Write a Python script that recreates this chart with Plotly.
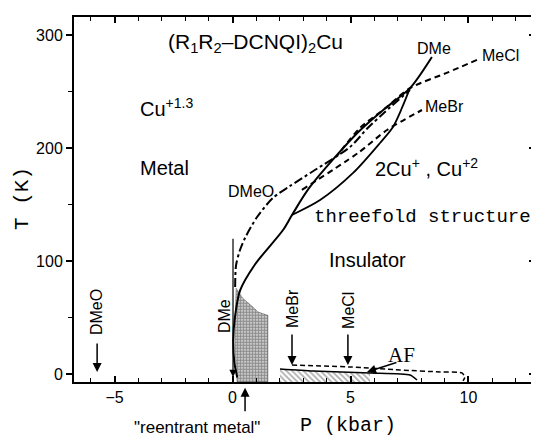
import plotly.graph_objects as go

# ---- data (P in kbar, T in K) ----
dme_P = [0.20, 0.08, 0.03, 0.10, 0.32, 0.95, 2.14, 2.52, 3.28, 5.32, 6.46, 7.52, 8.45]
dme_T = [-3.0, 10.0, 30.0, 50.0, 74.0, 97.0, 127.5, 140.8, 165.6, 214.0, 235.0, 253.0, 280.6]

loop_P = [2.52, 3.71, 5.11, 6.25, 6.80, 7.18, 7.52]
loop_T = [140.8, 154.0, 178.0, 204.5, 218.7, 235.5, 253.0]

dmeo_P = [0.11, 0.15, 0.32, 0.53, 1.04, 1.72, 2.44, 3.41, 4.98, 5.74, 6.46, 7.52]
dmeo_T = [77.0, 96.5, 110.0, 120.4, 139.0, 156.0, 166.5, 179.5, 201.0, 218.0, 232.0, 251.5]

mecl_P = [10.36, 9.13, 7.52, 6.46, 5.40, 4.43]
mecl_T = [278.0, 267.0, 253.0, 235.0, 217.8, 193.0]

mebr_P = [2.94, 5.32, 6.55, 8.03]
mebr_T = [163.0, 195.7, 216.0, 233.7]

af_dash_P = [2.52, 4.98, 7.10, 8.79, 9.72, 9.85, 9.77]
af_dash_T = [8.0, 6.3, 3.6, 1.9, 1.0, -2.6, -6.0]

af_solid_P = [2.01, 3.41, 5.83, 7.52, 7.82]
af_solid_T = [4.5, 2.7, 1.0, -0.8, -5.2]

af_hatch_P = [2.01, 3.41, 5.83, 5.83, 2.01]
af_hatch_T = [4.5, 2.7, 1.0, -7.0, -7.0]

reentrant_P = [0.15, 0.44, 0.83, 1.08, 1.50, 1.50, 0.19, 0.11, 0.11, 0.15]
reentrant_T = [76.0, 67.0, 60.0, 55.0, 52.0, -7.0, -7.0, 21.0, 48.0, 76.0]

# compound arrows: label, P position, arrow start T, arrow tip T, label T
arrow_names = ["DMeO", "MeBr", "MeCl"]
arrow_P = [-5.74, 2.52, 4.89]
arrow_start_T = [28.5, 36.4, 36.4]
arrow_tip_T = [1.9, 8.0, 8.0]
arrow_label_T = [55.0, 57.6, 56.7]

reentrant_arrow_P = 0.53

x_ticks = [-5, 0, 5, 10]
y_ticks = [0, 100, 200, 300]

SANS = "Liberation Sans, Arial, sans-serif"
MONO = "Liberation Mono, Courier New, monospace"
SERIF = "Liberation Serif, Times New Roman, serif"

fig = go.Figure()

# shaded regions
fig.add_trace(go.Scatter(
    x=reentrant_P, y=reentrant_T, mode="lines", fill="toself",
    line=dict(color="rgba(0,0,0,0.6)", width=0.5),
    fillcolor="rgba(0,0,0,0)",
    fillpattern=dict(shape=".", size=3, solidity=0.7, fgcolor="#333", bgcolor="#e8e8e8"),
    hoverinfo="skip", showlegend=False))

fig.add_trace(go.Scatter(
    x=af_hatch_P, y=af_hatch_T, mode="lines", fill="toself",
    line=dict(color="rgba(0,0,0,0)", width=0),
    fillcolor="rgba(0,0,0,0)",
    fillpattern=dict(shape="\\", size=4, solidity=0.4, fgcolor="#555", bgcolor="white"),
    hoverinfo="skip", showlegend=False))

# lines
fig.add_trace(go.Scatter(x=dme_P, y=dme_T, mode="lines",
                         line=dict(color="black", width=2, shape="spline", smoothing=0.8),
                         showlegend=False))
fig.add_trace(go.Scatter(x=loop_P, y=loop_T, mode="lines",
                         line=dict(color="black", width=1.8, shape="spline", smoothing=0.8),
                         showlegend=False))
fig.add_trace(go.Scatter(x=dmeo_P, y=dmeo_T, mode="lines",
                         line=dict(color="black", width=2, dash="dashdot", shape="spline", smoothing=0.8),
                         showlegend=False))
fig.add_trace(go.Scatter(x=mecl_P, y=mecl_T, mode="lines",
                         line=dict(color="black", width=2, dash="6px,4px", shape="spline", smoothing=0.8),
                         showlegend=False))
fig.add_trace(go.Scatter(x=mebr_P, y=mebr_T, mode="lines",
                         line=dict(color="black", width=2, dash="6px,4px", shape="spline", smoothing=0.8),
                         showlegend=False))
fig.add_trace(go.Scatter(x=af_dash_P, y=af_dash_T, mode="lines",
                         line=dict(color="black", width=1.5, dash="5px,3px", shape="spline", smoothing=0.6),
                         showlegend=False))
fig.add_trace(go.Scatter(x=af_solid_P, y=af_solid_T, mode="lines",
                         line=dict(color="black", width=1.5, shape="spline", smoothing=0.6),
                         showlegend=False))

# invisible trace for the right axis
fig.add_trace(go.Scatter(x=[0], y=[0], yaxis="y2", mode="markers",
                         marker=dict(opacity=0), hoverinfo="skip", showlegend=False))

ann = []
def text(x, y, s, size=20, font=SANS, xanchor="center", yanchor="middle", angle=0):
    ann.append(dict(x=x, y=y, xref="x", yref="y", text=s, showarrow=False,
                    xanchor=xanchor, yanchor=yanchor, textangle=angle,
                    font=dict(family=font, size=size, color="black")))

def arrow(x0, y0, x1, y1, width=1.5, head=2, hsize=1.2):
    ann.append(dict(x=x1, y=y1, ax=x0, ay=y0, xref="x", yref="y", axref="x", ayref="y",
                    text="", showarrow=True, arrowhead=head, arrowsize=hsize,
                    arrowwidth=width, arrowcolor="black"))

text(0.99, 293, "(R<sub>1</sub>R<sub>2</sub>\u2013DCNQI)<sub>2</sub>Cu", size=21)
text(-4.0, 236, "Cu<sup>+1.3</sup>", size=20, xanchor="left")
text(-4.0, 182.6, "Metal", size=20, xanchor="left")
text(1.84, 162, "DMeO", size=16, xanchor="right")
text(5.95, 183, "2Cu<sup>+</sup> , Cu<sup>+2</sup>", size=20, xanchor="left")
text(3.37, 139, "threefold structure", size=19, font=MONO, xanchor="left")
text(5.74, 101, "Insulator", size=20)
text(8.54, 287.7, "DMe", size=16)
text(10.49, 281.5, "MeCl", size=16, xanchor="left")
text(8.07, 237, "MeBr", size=16, xanchor="left")
text(7.18, 17, "AF", size=21, font=SERIF)

for name, p, t0, t1, tl in zip(arrow_names, arrow_P, arrow_start_T, arrow_tip_T, arrow_label_T):
    text(p, tl, name, size=16, angle=-90)
    arrow(p, t0, p, t1)

# DMe long arrow at P = 0
text(-0.36, 51.4, "DMe", size=16, angle=-90)
arrow(0.02, 121, 0.02, -2.6, width=1.2)

# AF arrow
arrow(7.01, 10.7, 5.70, 1.9, width=1.5)

# reentrant metal (below the axis: y in paper units so it is not hidden)
ann.append(dict(x=reentrant_arrow_P, y=-0.016, xref="x", yref="paper",
                ax=0, ay=25, axref="pixel", ayref="pixel", text="", showarrow=True,
                arrowhead=2, arrowsize=1.2, arrowwidth=1.5, arrowcolor="black"))
ann.append(dict(x=-1.52, y=-0.125, xref="x", yref="paper", text='"reentrant metal"',
                showarrow=False, xanchor="center", yanchor="middle",
                font=dict(family=SANS, size=17, color="black")))

# axis titles as paper annotations
ann.append(dict(x=0.594, y=-0.118, xref="paper", yref="paper", text="P (kbar)",
                showarrow=False, xanchor="center", yanchor="middle",
                font=dict(family=MONO, size=20, color="black")))
ann.append(dict(x=-0.113, y=0.504, xref="paper", yref="paper", text="T (K)",
                showarrow=False, xanchor="center", yanchor="middle", textangle=-90,
                font=dict(family=MONO, size=21, color="black")))

# the page places the figure 8 px in from the window's top-left corner
fig.update_layout(
    width=531, height=429,
    margin=dict(l=66, r=4, t=9, b=55, autoexpand=False),
    plot_bgcolor="white", paper_bgcolor="white",
    annotations=ann,
    xaxis=dict(range=[-6.72, 12.82], tickvals=x_ticks, ticks="inside", ticklen=6,
               tickwidth=1.5, tickcolor="black", showline=True, linewidth=2, linecolor="black",
               mirror="ticks", showgrid=False, zeroline=False, automargin=False,
               minor=dict(dtick=1, tick0=0, ticks="inside", ticklen=4, tickwidth=1.2, tickcolor="black"),
               tickfont=dict(family=SANS, size=16, color="black")),
    yaxis=dict(range=[-7, 316], tickvals=y_ticks, ticks="outside", ticklen=6,
               tickwidth=1.5, tickcolor="black", showline=True, linewidth=2, linecolor="black",
               mirror=True, showgrid=False, zeroline=False, automargin=False,
               minor=dict(dtick=50, tick0=0, ticks="outside", ticklen=4, tickwidth=1.2, tickcolor="black"),
               tickfont=dict(family=SANS, size=16, color="black")),
    yaxis2=dict(range=[-7, 316], overlaying="y", side="right", tickvals=y_ticks,
                ticks="inside", ticklen=6, tickwidth=1.5, tickcolor="black", automargin=False,
                showticklabels=False, showgrid=False, zeroline=False, showline=False),
)

fig.write_html("out.html")
